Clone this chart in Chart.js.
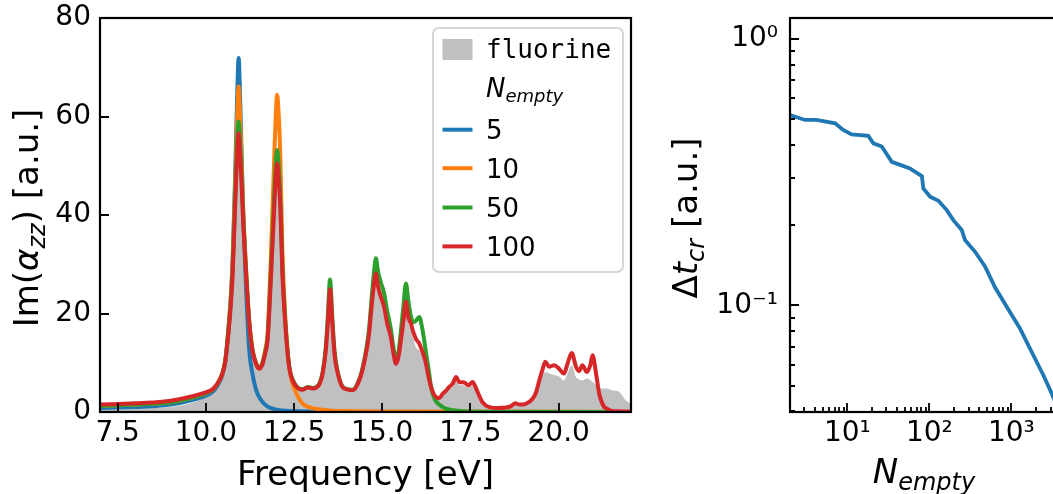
<!DOCTYPE html>
<html>
<head>
<meta charset="utf-8">
<script src="https://cdn.jsdelivr.net/npm/chart.js@4.4.1/dist/chart.umd.min.js"></script>
<style>
  html, body { margin: 0; padding: 0; background: #fff; overflow: hidden; width: 1053px; height: 494px; }
  #specBox { position: absolute; left: 0; top: 0; }
  #tcrBox { position: absolute; left: 660px; top: 0; }
</style>
</head>
<body>
<div id="specBox"><canvas id="specChart" width="660" height="494"></canvas></div>
<div id="tcrBox"><canvas id="tcrChart" width="410" height="494"></canvas></div>
<script>
// ---- données : spectre Im(alpha_zz), [fréquence eV, valeur] ----
const fluorine = [[7.0,0.5],[8.0,0.6],[8.6,0.8],[9.0,1.0],[9.5,1.6],[10.0,3.0],[10.19,4.0],[10.35,5.6],[10.47,7.6],[10.55,10],[10.62,14.4],[10.7,20.8],[10.76,27.8],[10.83,41.5],[10.88,50.8],[10.93,56.4],[10.97,51.8],[11.0,48.2],[11.06,38],[11.14,27.7],[11.23,17.7],[11.32,12.2],[11.42,9.5],[11.51,8.5],[11.6,9.3],[11.68,11.5],[11.75,14.3],[11.85,27.7],[11.94,41.4],[11.98,47.2],[12.02,50.2],[12.06,47.7],[12.11,41.4],[12.17,27.7],[12.25,17.7],[12.36,9.0],[12.46,6.2],[12.6,4.7],[12.74,4.3],[12.88,4.8],[13.02,4.6],[13.14,4.8],[13.23,5.6],[13.31,7.6],[13.4,12.3],[13.46,18.2],[13.52,24.6],[13.58,18.2],[13.65,11.3],[13.74,7.6],[13.87,4.9],[14.0,4.4],[14.16,4.2],[14.3,5.4],[14.42,7.8],[14.54,11.7],[14.62,15.3],[14.68,19.8],[14.75,24.8],[14.82,27.8],[14.88,25.2],[14.96,23.1],[15.05,21.1],[15.14,17.7],[15.24,15.0],[15.32,11.5],[15.39,9.5],[15.46,10.9],[15.53,14.3],[15.6,18.2],[15.67,22.0],[15.74,18.2],[15.81,16.5],[15.88,14.8],[15.95,13.2],[16.05,12.5],[16.12,11.5],[16.18,10.5],[16.24,9.0],[16.31,6.8],[16.38,4.8],[16.45,3.6],[16.52,2.9],[16.61,2.7],[16.71,3.5],[16.8,4.0],[16.9,4.6],[17.0,5.1],[17.09,6.2],[17.18,5.5],[17.32,5.4],[17.44,4.9],[17.56,5.4],[17.63,4.8],[17.7,3.8],[17.84,1.8],[18.03,0.8],[18.3,0.6],[18.5,0.7],[18.65,1.0],[18.77,1.5],[18.88,1.3],[18.97,1.3],[19.1,1.6],[19.26,2.4],[19.36,3.6],[19.45,5.5],[19.55,7.5],[19.62,8.1],[19.73,7.8],[19.87,7.5],[20.01,7.2],[20.15,6.4],[20.25,7.8],[20.37,9.5],[20.49,7.1],[20.58,6.6],[20.67,6.4],[20.8,6.8],[20.9,6.5],[20.96,6.1],[21.06,5.5],[21.15,4.75],[21.34,4.75],[21.52,4.4],[21.71,4.1],[21.9,2.4],[22.1,1.5]];

const spec5 = [[7.0,0.8],[8.0,1.0],[8.6,1.2],[9.0,1.5],[9.5,2.2],[10.0,3.3],[10.19,4.1],[10.35,5.6],[10.47,7.6],[10.55,10.2],[10.62,15],[10.7,22.5],[10.76,31],[10.83,48],[10.88,62],[10.93,71.9],[10.97,64],[11.0,56],[11.06,40],[11.14,25],[11.23,12.5],[11.32,7.8],[11.42,4.6],[11.51,3.05],[11.6,2.1],[11.68,1.5],[11.75,1.1],[11.85,0.8],[11.94,0.6],[12.02,0.45],[12.17,0.3],[12.46,0.2],[13.0,0.12],[14.0,0.05],[22.1,0.01]];

const spec10 = [[7.0,1.2],[8.0,1.5],[8.6,1.7],[9.0,2.0],[9.5,2.7],[10.0,3.8],[10.19,4.5],[10.35,6.0],[10.47,7.9],[10.55,10.5],[10.62,15.3],[10.7,22.5],[10.76,30.5],[10.83,46],[10.88,58],[10.93,66.1],[10.97,60],[11.0,54],[11.06,41],[11.14,29],[11.23,18.5],[11.32,12.8],[11.42,10],[11.51,9.0],[11.6,10],[11.68,12.5],[11.75,16],[11.85,33],[11.94,52],[11.98,60],[12.02,64.4],[12.06,61],[12.11,52],[12.17,33],[12.25,19.5],[12.36,9.2],[12.46,5.8],[12.6,3.2],[12.74,1.7],[12.88,1.1],[13.02,0.8],[13.14,0.6],[13.5,0.3],[14.0,0.18],[15.0,0.1],[22.1,0.02]];

const spec50 = [[7.0,1.2],[8.0,1.5],[8.6,1.7],[9.0,2.0],[9.5,2.7],[10.0,3.8],[10.19,4.5],[10.35,6.0],[10.47,7.9],[10.55,10.4],[10.62,15],[10.7,21.8],[10.76,29.3],[10.83,43.5],[10.88,53.5],[10.93,59],[10.97,54.5],[11.0,50.5],[11.06,39.5],[11.14,28.6],[11.23,18.3],[11.32,12.7],[11.42,9.9],[11.51,8.9],[11.6,9.8],[11.68,12.1],[11.75,15.2],[11.85,29.5],[11.94,44.5],[11.98,50.2],[12.02,53.2],[12.06,50.5],[12.11,43.8],[12.17,29.2],[12.25,18.6],[12.36,9.5],[12.46,6.6],[12.6,5.0],[12.74,4.6],[12.88,5.1],[13.02,4.85],[13.14,5.1],[13.23,6.0],[13.31,8.1],[13.4,13.2],[13.46,19.8],[13.52,26.9],[13.58,19.8],[13.65,12.2],[13.74,8.1],[13.87,5.2],[14.0,4.7],[14.16,4.5],[14.3,5.8],[14.42,8.3],[14.54,12.5],[14.62,16.5],[14.68,21.5],[14.75,27.2],[14.82,31.2],[14.88,28.5],[14.96,26.3],[15.05,24.2],[15.14,20.5],[15.24,17],[15.32,13],[15.39,10.5],[15.46,12.2],[15.53,16.5],[15.6,21.5],[15.67,26.1],[15.74,22.5],[15.81,19.5],[15.88,18.2],[15.95,18.5],[16.05,19.3],[16.12,17.5],[16.18,15],[16.24,12],[16.31,8.8],[16.38,5.3],[16.45,3.2],[16.52,2.2],[16.61,1.5],[16.71,1.0],[16.8,0.7],[16.9,0.5],[17.0,0.35],[17.3,0.15],[18.0,0.06],[22.1,0.02]];

const spec100 = [[7.0,1.5],[8.0,1.8],[8.6,2.0],[9.0,2.3],[9.5,3.0],[10.0,4.0],[10.19,4.6],[10.35,6.0],[10.47,7.8],[10.55,10.2],[10.62,14.6],[10.7,21],[10.76,28],[10.83,41.7],[10.88,51],[10.93,56.6],[10.97,52],[11.0,48.5],[11.06,38.3],[11.14,28],[11.23,18],[11.32,12.5],[11.42,9.8],[11.51,8.8],[11.6,9.6],[11.68,11.8],[11.75,14.6],[11.85,28],[11.94,41.7],[11.98,47.5],[12.02,50.5],[12.06,48],[12.11,41.7],[12.17,28],[12.25,18],[12.36,9.2],[12.46,6.4],[12.6,4.9],[12.74,4.5],[12.88,5.0],[13.02,4.75],[13.14,5.0],[13.23,5.8],[13.31,7.8],[13.4,12.5],[13.46,18.5],[13.52,24.9],[13.58,18.5],[13.65,11.5],[13.74,7.8],[13.87,5.1],[14.0,4.6],[14.16,4.4],[14.3,5.6],[14.42,8.0],[14.54,11.9],[14.62,15.5],[14.68,20],[14.75,25],[14.82,28.1],[14.88,25.5],[14.96,23.4],[15.05,21.4],[15.14,18],[15.24,15.3],[15.32,11.8],[15.39,9.8],[15.46,11.2],[15.53,14.6],[15.6,18.5],[15.67,22.4],[15.74,19.2],[15.81,18],[15.88,16.2],[15.95,14.9],[16.05,13.9],[16.12,12.6],[16.18,11.4],[16.24,9.8],[16.31,7.2],[16.38,5.1],[16.45,3.8],[16.52,3.05],[16.61,2.8],[16.71,3.7],[16.8,4.3],[16.9,5.1],[17.0,5.8],[17.09,7.1],[17.18,6.1],[17.32,6.0],[17.44,5.4],[17.56,6.1],[17.63,5.3],[17.7,4.1],[17.84,2.0],[18.03,1.0],[18.3,0.8],[18.5,0.9],[18.65,1.2],[18.77,1.8],[18.88,1.5],[18.97,1.5],[19.1,1.8],[19.26,2.7],[19.36,4.0],[19.45,6.4],[19.55,8.8],[19.62,10.2],[19.73,9.2],[19.87,9.5],[20.01,8.8],[20.15,7.8],[20.25,9.8],[20.37,12.0],[20.49,9.2],[20.58,8.3],[20.67,9.5],[20.8,8.1],[20.9,9.6],[20.96,11.5],[21.06,7.8],[21.15,3.7],[21.29,1.0],[21.34,0.8],[21.52,0.2],[21.71,0.15],[21.9,0.1],[22.1,0.1]];

// ---- données : Delta t_cr en fonction de N_empty ----
const nEmpty = [2.0, 3.05, 4.2, 7.1, 8.9, 11.3, 18, 20.8, 26.3, 34.8, 58, 81, 84.5, 102, 129, 163, 196, 248, 272, 361, 477, 631, 877, 1274, 1852, 2455, 3240, 3800];
const dtCr = [0.519, 0.497, 0.497, 0.483, 0.456, 0.439, 0.433, 0.406, 0.395, 0.346, 0.327, 0.306, 0.275, 0.256, 0.247, 0.228, 0.209, 0.192, 0.176, 0.159, 0.140, 0.117, 0.0989, 0.0819, 0.065, 0.0547, 0.0453, 0.0400];

// ---- graduations ----
const freqTicks = [7.5, 10, 12.5, 15, 17.5, 20];
const imTicks = [0, 20, 40, 60, 80];
const nTicks = [2, 3, 4, 5, 6, 7, 8, 9, 10, 20, 30, 40, 50, 60, 70, 80, 90, 100, 200, 300, 400, 500, 600, 700, 800, 900, 1000, 2000, 3000];
const dtTicks = [0.04, 0.05, 0.06, 0.07, 0.08, 0.09, 0.1, 0.2, 0.3, 0.4, 0.5, 0.6, 0.7, 0.8, 0.9, 1.0];

const legendLabels = ['5', '10', '50', '100'];
const colors = ['#1f77b4', '#ff7f0e', '#2ca02c', '#d62728'];

const FONT = 'DejaVu Sans';
const sup = s => String(s).replace(/[-0-9]/g, c => '⁻⁰¹²³⁴⁵⁶⁷⁸⁹'['-0123456789'.indexOf(c)]);
const isPow10 = v => Math.abs(Math.log10(v) - Math.round(Math.log10(v))) < 1e-9;

// texte avec morceaux de polices différentes (italique, indices)
function richText(ctx, parts, x, y, align) {
    let w = 0;
    parts.forEach(p => { ctx.font = p[1]; w += ctx.measureText(p[0]).width; });
    let cx = align === 'center' ? x - w / 2 : x;
    ctx.textAlign = 'left';
    ctx.textBaseline = 'alphabetic';
    parts.forEach(p => {
        ctx.font = p[1];
        ctx.fillText(p[0], cx, y + (p[2] || 0));
        cx += ctx.measureText(p[0]).width;
    });
}

// cadre + graduations vers l'intérieur + titres des axes
const framePlugin = {
    id: 'frame',
    afterDraw(chart, args, opts) {
        const { ctx, chartArea: a } = chart;
        const xs = chart.scales.x, ys = chart.scales.y;
        ctx.save();
        ctx.strokeStyle = '#000';
        ctx.lineWidth = 1.8;
        ctx.beginPath();
        xs.ticks.forEach(t => {
            const p = Math.round(xs.getPixelForValue(t.value));
            const len = (!opts.log || isPow10(t.value)) ? 9 : 5;
            ctx.moveTo(p, a.bottom);
            ctx.lineTo(p, a.bottom - len);
        });
        ys.ticks.forEach(t => {
            const p = Math.round(ys.getPixelForValue(t.value));
            const len = (!opts.log || isPow10(t.value)) ? 9 : 5;
            ctx.moveTo(a.left, p);
            ctx.lineTo(a.left + len, p);
        });
        ctx.stroke();
        ctx.lineWidth = 2.2;
        ctx.strokeRect(a.left, a.top, a.right - a.left, a.bottom - a.top);

        ctx.fillStyle = '#000';
        richText(ctx, opts.xTitle, (a.left + a.right) / 2, opts.xTitleY, 'center');
        ctx.translate(opts.yTitleX, (a.top + a.bottom) / 2 + 3);
        ctx.rotate(-Math.PI / 2);
        richText(ctx, opts.yTitle, 0, 0, 'center');
        ctx.restore();
    }
};

// légende du spectre
const legendPlugin = {
    id: 'specLegend',
    afterDraw(chart) {
        const { ctx, chartArea: a } = chart;
        const l = a.right - 198, t = a.top + 10, w = 190, h = 244;
        ctx.save();
        ctx.fillStyle = 'rgba(255,255,255,0.8)';
        ctx.strokeStyle = '#d6d6d6';
        ctx.lineWidth = 2;
        ctx.beginPath();
        ctx.roundRect(l, t, w, h, 6);
        ctx.fill();
        ctx.stroke();

        ctx.fillStyle = 'silver';
        ctx.fillRect(l + 9.5, t + 11, 30, 21);
        ctx.fillStyle = '#000';
        richText(ctx, [['fluorine', '26px "DejaVu Sans Mono"']], l + 53, t + 30);
        richText(ctx, [['N', 'italic 26px ' + FONT], ['empty', 'italic 18px ' + FONT, 5]], l + 53, t + 69);

        const rows = [101.7, 140.2, 179.5, 218.4];
        legendLabels.forEach((lab, i) => {
            ctx.strokeStyle = colors[i];
            ctx.lineWidth = 4;
            ctx.beginPath();
            ctx.moveTo(l + 9.5, t + rows[i]);
            ctx.lineTo(l + 39.5, t + rows[i]);
            ctx.stroke();
            ctx.fillStyle = '#000';
            richText(ctx, [[lab, '26px ' + FONT]], l + 53, t + rows[i] + 9.5);
        });
        ctx.restore();
    }
};

const tickFont = { family: FONT, size: 28 };
const noPad = s => { s.paddingTop = 0; s.paddingBottom = 0; s.paddingLeft = 0; s.paddingRight = 0; };

function lineSet(label, pts, color, order) {
    return {
        label: label,
        data: pts.map(([x, y]) => ({ x, y })),
        borderColor: color,
        borderWidth: 4,
        pointRadius: 0,
        fill: false,
        cubicInterpolationMode: 'monotone',
        order: order
    };
}

// ====== Graphique 1 : spectre ======
new Chart(document.getElementById('specChart'), {
    type: 'line',
    data: {
        datasets: [
            {
                label: 'fluorine',
                data: fluorine.map(([x, y]) => ({ x, y })),
                borderWidth: 0,
                borderColor: 'rgba(0,0,0,0)',
                backgroundColor: 'silver',
                pointRadius: 0,
                fill: 'origin',
                cubicInterpolationMode: 'monotone',
                order: 5
            },
            lineSet('5', spec5, colors[0], 4),
            lineSet('10', spec10, colors[1], 3),
            lineSet('50', spec50, colors[2], 2),
            lineSet('100', spec100, colors[3], 1)
        ]
    },
    options: {
        responsive: false,
        animation: false,
        events: [],
        layout: { padding: { top: 18, right: 29, left: 0, bottom: 0 } },
        scales: {
            x: {
                type: 'linear',
                min: 7,
                max: 22.05,
                afterBuildTicks: s => { s.ticks = freqTicks.map(v => ({ value: v })); },
                afterFit: s => { s.height = 82; noPad(s); },
                grid: { display: false, drawTicks: false },
                border: { display: false },
                ticks: { font: tickFont, color: '#000', padding: 5, maxRotation: 0, autoSkip: false,
                         callback: v => v.toFixed(1) }
            },
            y: {
                min: 0,
                max: 80,
                afterBuildTicks: s => { s.ticks = imTicks.map(v => ({ value: v })); },
                afterFit: s => { s.width = 100; noPad(s); },
                grid: { display: false, drawTicks: false },
                border: { display: false },
                ticks: { font: tickFont, color: '#000', padding: 9, callback: v => String(v) }
            }
        },
        plugins: {
            legend: { display: false },
            tooltip: { enabled: false },
            frame: {
                xTitle: [['Frequency [eV]', '34px ' + FONT]],
                xTitleY: 485,
                yTitle: [['Im(', '34px ' + FONT], ['α', 'italic 34px ' + FONT], ['zz', 'italic 24px ' + FONT, 7], [') [a.u.]', '34px ' + FONT]],
                yTitleX: 38
            }
        }
    },
    plugins: [framePlugin, legendPlugin]
});

// ====== Graphique 2 : Delta t_cr ======
new Chart(document.getElementById('tcrChart'), {
    type: 'line',
    data: {
        datasets: [{
            data: nEmpty.map((n, i) => ({ x: n, y: dtCr[i] })),
            borderColor: colors[0],
            borderWidth: 3.8,
            pointRadius: 0,
            tension: 0,
            fill: false
        }]
    },
    options: {
        responsive: false,
        animation: false,
        events: [],
        layout: { padding: { top: 18, right: 12, left: 0, bottom: 0 } },
        scales: {
            x: {
                type: 'logarithmic',
                min: 2,
                max: 3700,
                afterBuildTicks: s => { s.ticks = nTicks.map(v => ({ value: v })); },
                afterFit: s => { s.height = 82; noPad(s); },
                grid: { display: false, drawTicks: false },
                border: { display: false },
                ticks: { font: tickFont, color: '#000', padding: 5, maxRotation: 0, autoSkip: false,
                         callback: v => isPow10(v) ? '10' + sup(Math.round(Math.log10(v))) : '' }
            },
            y: {
                type: 'logarithmic',
                min: 0.0398,
                max: 1.2,
                afterBuildTicks: s => { s.ticks = dtTicks.map(v => ({ value: v })); },
                afterFit: s => { s.width = 130; noPad(s); },
                grid: { display: false, drawTicks: false },
                border: { display: false },
                ticks: { font: tickFont, color: '#000', padding: 12, autoSkip: false,
                         callback: v => isPow10(v) ? '10' + sup(Math.round(Math.log10(v))) : '' }
            }
        },
        plugins: {
            legend: { display: false },
            tooltip: { enabled: false },
            frame: {
                log: true,
                xTitle: [['N', 'italic 34px ' + FONT], ['empty', 'italic 24px ' + FONT, 7]],
                xTitleY: 483,
                yTitle: [['Δ', '34px ' + FONT], ['t', 'italic 34px ' + FONT], ['cr', 'italic 24px ' + FONT, 7], [' [a.u.]', '34px ' + FONT]],
                yTitleX: 37
            }
        }
    },
    plugins: [framePlugin]
});
</script>
</body>
</html>
